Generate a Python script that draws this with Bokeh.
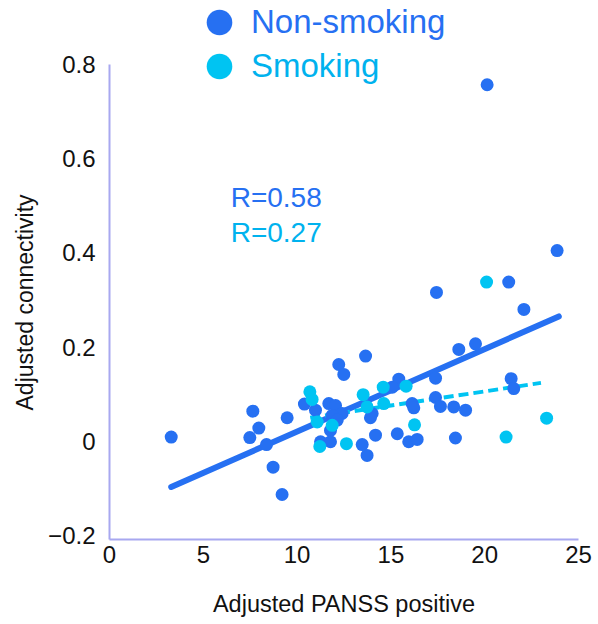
from bokeh.plotting import figure
from bokeh.models import Range1d, Legend, LegendItem, Label, FixedTicker, Title
from bokeh.embed import file_html
from bokeh.resources import INLINE

# ---------------- data ----------------
group_names = ["Non-smoking", "Smoking"]

nonsmoking_x = [20.13, 23.86, 21.28, 17.43, 22.09, 18.62, 19.51, 13.65, 12.22, 12.49,
                15.42, 15.07, 17.38, 14.00, 13.91, 16.13, 16.22, 17.38, 17.64, 18.35,
                18.98, 21.41, 21.55, 18.44, 14.18, 15.34, 15.95, 16.40, 13.47, 13.73,
                3.29, 7.64, 7.96, 7.48, 9.47, 8.37, 8.72, 9.20, 10.39, 10.98,
                11.69, 12.05, 12.40, 11.87, 12.14, 11.78, 11.25, 11.78]
nonsmoking_y = [0.757, 0.405, 0.338, 0.316, 0.280, 0.195, 0.207, 0.181, 0.163, 0.142,
                0.132, 0.115, 0.134, 0.059, 0.050, 0.080, 0.071, 0.093, 0.074, 0.073,
                0.066, 0.133, 0.112, 0.007, 0.013, 0.016, -0.001, 0.004, -0.007, -0.030,
                0.009, 0.064, 0.028, 0.008, 0.050, -0.007, -0.055, -0.113, 0.079, 0.066,
                0.080, 0.076, 0.059, 0.055, 0.045, 0.023, -0.001, -0.001]

smoking_x = [20.10, 15.81, 14.59, 13.52, 13.73, 14.62, 16.26, 23.30, 21.14, 12.63,
             10.68, 10.80, 11.07, 11.87, 11.21]
smoking_y = [0.338, 0.117, 0.115, 0.099, 0.073, 0.080, 0.035, 0.049, 0.009, -0.005,
             0.105, 0.089, 0.041, 0.034, -0.011]

fit_nonsmoking_x = [3.29, 23.95]
fit_nonsmoking_y = [-0.097, 0.265]
fit_smoking_x = [10.70, 23.00]
fit_smoking_y = [0.050, 0.124]

r_labels = ["R=0.58", "R=0.27"]

x_ticks = [0, 5, 10, 15, 20, 25]
y_ticks = [-0.2, 0, 0.2, 0.4, 0.6, 0.8]
y_tick_labels = ["\u22120.2", "0", "0.2", "0.4", "0.6", "0.8"]

x_title = "Adjusted PANSS positive"
y_title = "Adjusted connectivity"

# ---------------- style ----------------
BLUE = "#2670f2"
CYAN = "#00c4f2"
CYAN_TEXT = "#00b2ee"
AXIS = "#a8a8f0"
FONT = "Liberation Sans"

Y_MIN, Y_AXIS_TOP, Y_MAX = -0.2085, 0.8, 0.9359

p = figure(width=598, height=624, output_backend="svg", toolbar_location=None,
           x_range=Range1d(0, 25), y_range=Range1d(Y_MIN, Y_MAX),
           min_border_left=109, min_border_right=20, min_border_top=0,
           min_border_bottom=85)
p.outline_line_color = None
p.xgrid.grid_line_color = None
p.ygrid.grid_line_color = None
p.background_fill_color = "white"
p.border_fill_color = "white"

for ax in (p.xaxis[0], p.yaxis[0]):
    ax.axis_line_color = AXIS
    ax.axis_line_width = 2
    ax.major_tick_line_color = None
    ax.minor_tick_line_color = None
    ax.major_tick_out = 0
    ax.major_tick_in = 0
    ax.minor_tick_out = 0
    ax.minor_tick_in = 0
    ax.major_label_text_font = FONT
    ax.major_label_text_font_size = "24px"
    ax.major_label_text_color = "#111111"
    ax.axis_label_text_font = FONT
    ax.axis_label_text_font_style = "normal"
    ax.axis_label_text_color = "#111111"

p.xaxis.axis_label_text_font_size = "23.5px"
p.xaxis.ticker = FixedTicker(ticks=x_ticks)
p.yaxis.ticker = FixedTicker(ticks=y_ticks)
p.yaxis.bounds = (Y_MIN, Y_AXIS_TOP)
p.yaxis.major_label_overrides = dict(zip(y_ticks, y_tick_labels))
p.xaxis.axis_label = x_title
p.xaxis.major_label_standoff = 6
p.xaxis.axis_label_standoff = 25
p.yaxis.major_label_standoff = 14

# y-axis title, placed along the drawn part of the axis
p.add_layout(Title(text=y_title, align="left", offset=129, standoff=16,
                   text_font=FONT, text_font_size="23px", text_font_style="normal",
                   text_color="#111111"), "left")

# regression lines
p.line(fit_nonsmoking_x, fit_nonsmoking_y, line_color=BLUE, line_width=6, line_cap="round")
p.line(fit_smoking_x, fit_smoking_y, line_color=CYAN, line_width=4, line_dash="10 5")

# points
r_ns = p.scatter(nonsmoking_x, nonsmoking_y, size=13, fill_color=BLUE, line_color=None)
r_sm = p.scatter(smoking_x, smoking_y, size=13, fill_color=CYAN, line_color=None)

# legends (one per group so each label gets its own colour)
for name, rend, col, loc in [(group_names[0], r_ns, BLUE, (78, 485)),
                             (group_names[1], r_sm, CYAN_TEXT, (78, 441))]:
    leg = Legend(items=[LegendItem(label=name, renderers=[rend])], location=loc,
                 glyph_width=64, glyph_height=64, label_standoff=-8, padding=0,
                 margin=0, spacing=0, border_line_color=None,
                 background_fill_alpha=0, label_text_font=FONT,
                 label_text_font_size="33px", label_text_color=col)
    p.add_layout(leg)

# correlation labels
p.add_layout(Label(x=6.46, y=0.518, text=r_labels[0], text_baseline="middle",
                   text_font=FONT, text_font_size="28px", text_color=BLUE))
p.add_layout(Label(x=6.46, y=0.444, text=r_labels[1], text_baseline="middle",
                   text_font=FONT, text_font_size="28px", text_color=CYAN_TEXT))

open("out.html", "w").write(file_html(p, INLINE))
